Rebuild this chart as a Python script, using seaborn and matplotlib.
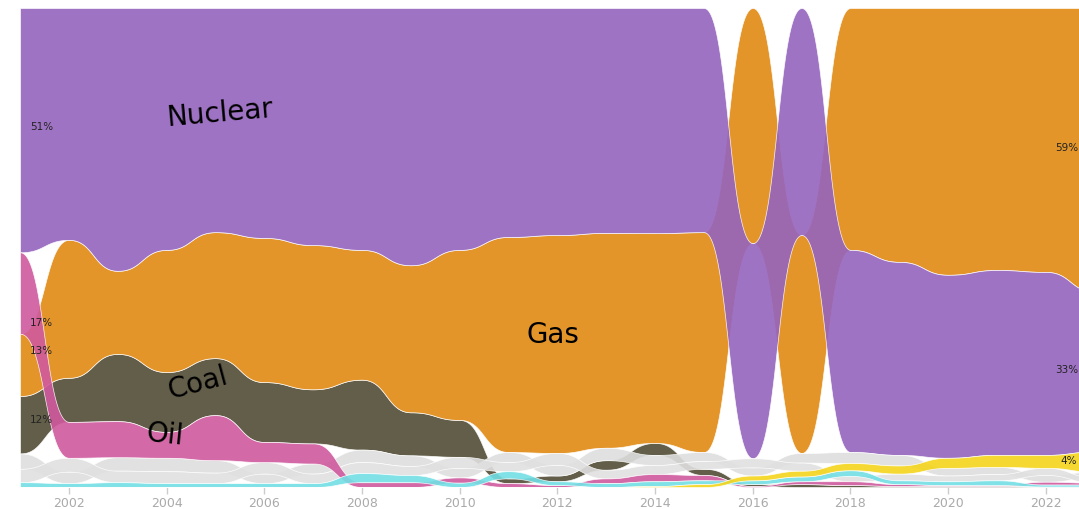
import numpy as np
import pandas as pd
import matplotlib
matplotlib.use("Agg")
import matplotlib.pyplot as plt
import seaborn as sns

# share of generation (%) per year
years = list(range(2001, 2024))
nuclear = [51.0, 48.4, 54.7, 50.5, 46.8, 48.0, 49.5, 50.5, 53.7, 50.5, 47.8, 47.4,
           47.0, 47.0, 46.8, 44.9, 47.4, 42.2, 40.3, 38.2, 38.6, 38.2, 33.4]
gas = [13.0, 28.8, 17.3, 25.5, 26.3, 30.1, 30.1, 27.1, 30.7, 35.5, 44.9, 45.5,
       44.9, 43.8, 45.9, 49.1, 45.5, 50.5, 53.0, 55.7, 54.7, 55.1, 59.2]
coal = [12.0, 9.2, 14.0, 12.5, 11.9, 12.5, 11.3, 14.6, 9.0, 7.7, 1.0, 1.2,
        2.0, 2.5, 1.3, 0.4, 0.6, 0.4, 0.2, 0.2, 0.2, 0.1, 0.1]
oil = [17.0, 7.5, 7.5, 5.4, 9.4, 4.2, 4.2, 1.0, 1.0, 1.1, 0.8, 0.4,
       1.0, 1.5, 1.1, 0.2, 0.6, 0.8, 0.4, 0.2, 0.2, 0.6, 0.4]
hydro = [3.2, 2.4, 2.8, 2.8, 2.6, 2.0, 2.1, 2.6, 2.2, 2.0, 2.1, 2.2,
         2.6, 2.1, 1.9, 1.7, 2.0, 2.3, 2.2, 1.6, 1.5, 1.4, 1.2]
biomass = [2.8, 2.9, 2.4, 2.5, 2.2, 2.4, 2.0, 2.3, 1.9, 2.3, 1.9, 2.5,
           1.8, 1.9, 1.6, 1.9, 1.7, 1.1, 1.4, 1.2, 1.3, 1.5, 1.1]
wind = [1.0, 0.8, 1.0, 0.8, 0.8, 0.8, 0.8, 1.9, 1.5, 0.9, 1.5, 0.8,
        0.8, 1.0, 0.8, 0.8, 1.0, 1.2, 0.8, 0.8, 1.0, 0.4, 0.4]
solar = [0, 0, 0, 0, 0, 0, 0, 0, 0, 0, 0, 0,
         0, 0.2, 0.6, 1.0, 1.2, 1.5, 1.7, 2.1, 2.5, 2.7, 4.2]

sources = ["Coal", "Gas", "Nuclear", "Hydro", "Biomass", "Oil", "Wind", "Solar"]  # draw order
colors = {"Nuclear": "#9564bd", "Gas": "#e08a13", "Coal": "#524c36", "Oil": "#d0599e",
          "Hydro": "#dedede", "Biomass": "#e0e0e0", "Wind": "#72dfe5", "Solar": "#f4d51b"}

df = pd.DataFrame({"Nuclear": nuclear, "Gas": gas, "Coal": coal, "Oil": oil,
                   "Hydro": hydro, "Biomass": biomass, "Wind": wind, "Solar": solar},
                  index=years)
df = df.div(df.sum(axis=1), axis=0) * 100

# rank each year: biggest on top, y measured from the top (0) down to 100
tops = pd.DataFrame(index=df.index, columns=df.columns, dtype=float)
bots = tops.copy()
for yr, row in df.iterrows():
    acc = 0.0
    for name, v in row.sort_values(ascending=False).items():
        tops.loc[yr, name] = acc
        acc += v
        bots.loc[yr, name] = acc

# bump curve between consecutive years
t = np.linspace(0, 1, 60)
bx = 1.5 * t * (1 - t) + t ** 3
by = 3 * t ** 2 - 2 * t ** 3

def bump(col):
    xs, ys = [], []
    vals = col.values
    for i in range(len(years) - 1):
        xs.append(years[i] + bx)
        ys.append(vals[i] + (vals[i + 1] - vals[i]) * by)
    return np.concatenate(xs), np.concatenate(ys)

sns.set_theme(style="white")
plt.rcParams["font.family"] = ["DejaVu Sans"]

fig = plt.figure(figsize=(10.79, 5.09), dpi=100)
ax = fig.add_axes([20 / 1079, 22 / 509, 1059 / 1079, 479 / 509])

for name in sources:
    x, ytop = bump(tops[name])
    _, ybot = bump(bots[name])
    ax.fill_between(x, ytop, ybot, color=colors[name], alpha=0.9,
                    edgecolor="white", linewidth=0.5)

ax.set_xlim(2001, 2022.68)
ax.set_ylim(100, 0)
ax.set_yticks([])
ax.set_xticks(range(2002, 2023, 2))
ax.tick_params(axis="x", colors="#cccccc", length=5, width=1, labelsize=9,
               labelcolor="#aaaaaa", bottom=True, pad=2)
sns.despine(ax=ax, left=True, bottom=True)

# series names
big = dict(fontsize=20, color="black", ha="center", va="center")
ax.text(2005.09, 21.9, "Nuclear", rotation=5, **big)
ax.text(2011.91, 68.3, "Gas", **big)
ax.text(2004.64, 78.3, "Coal", rotation=15, **big)
ax.text(2003.97, 89.2, "Oil", rotation=-6, **big)

# start / end shares
start_names = ["Nuclear", "Oil", "Gas", "Coal"]
start_y = [24.8, 65.8, 71.6, 86.0]
for name, yy in zip(start_names, start_y):
    ax.text(2001.2, yy, f"{df.loc[2001, name]:.0f}%", fontsize=7.5, va="center", color="#222222")

end_names = ["Gas", "Nuclear", "Solar"]
end_x = [2022.2, 2022.2, 2022.3]
end_y = [29.2, 75.6, 94.6]
for name, xx, yy in zip(end_names, end_x, end_y):
    ax.text(xx, yy, f"{df.loc[2023, name]:.0f}%", fontsize=7.5, va="center", color="#222222")

fig.savefig("out.png", dpi=100)
